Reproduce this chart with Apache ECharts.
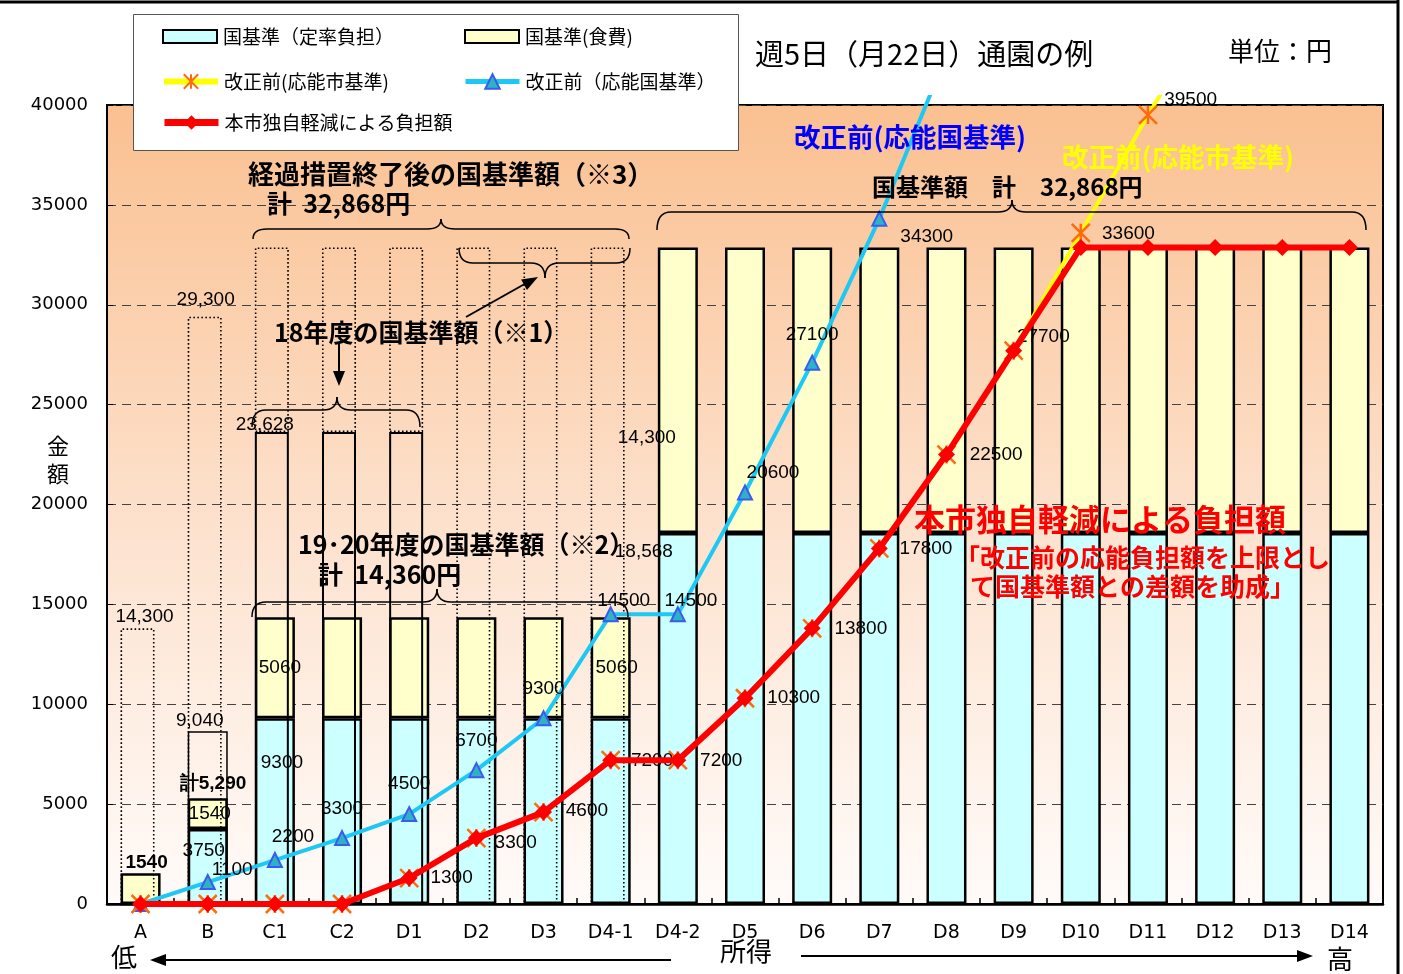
<!DOCTYPE html>
<html><head><meta charset="utf-8">
<script src="https://cdn.jsdelivr.net/npm/echarts@6/dist/echarts.min.js"></script>
<style>html,body{margin:0;padding:0;background:#fff}#c{width:1403px;height:974px}</style>
</head><body><div id="c"></div>
<script>
// ---------- data ----------
const categories = ['A','B','C1','C2','D1','D2','D3','D4-1','D4-2','D5','D6','D7','D8','D9','D10','D11','D12','D13','D14'];
const yTicks = [0,5000,10000,15000,20000,25000,30000,35000,40000];
// 国基準(定率負担)
const kunTeiritsu = [0,3750,9300,9300,9300,9300,9300,9300,18568,18568,18568,18568,18568,18568,18568,18568,18568,18568,18568];
// 国基準(食費)
const kunShokuhi  = [1540,1540,5060,5060,5060,5060,5060,5060,14300,14300,14300,14300,14300,14300,14300,14300,14300,14300,14300];
// B total box (solid outline)
const boxB = [null,8650,null,null,null,null,null,null,null,null,null,null,null,null,null,null,null,null,null];
const boxBLabels = ['','9,040'];
// 18年度の国基準額 (solid outline, C1-D1)
const kun18 = [null,null,23628,23628,23628,null,null,null,null,null,null,null,null,null,null,null,null,null,null];
const kun18Labels = ['','','23,628'];
// 経過措置終了後 / 18年度 (dotted outline totals)
const dottedTotals = [13800,29400,32868,32868,32868,32868,32868,32868,null,null,null,null,null,null,null,null,null,null,null];
const dottedLabels = ['14,300','29,300'];
// 改正前(応能市基準)
const shiKijun  = [0,0,0,0,1300,3300,4600,7200,7200,10300,13800,17800,22500,27700,33600,39500,45000,null,null];
// 改正前(応能国基準)
const kokuKijun = [0,1100,2200,3300,4500,6700,9300,14500,14500,20600,27100,34300,42500,null,null,null,null,null,null];
// 本市独自軽減による負担額
const keigen    = [0,0,0,0,1300,3300,4600,7200,7200,10300,13800,17800,22500,27700,32868,32868,32868,32868,32868];
const d42Labels = ['18,568','14,300'];

// ---------- styles ----------
const JP = "'Noto Sans CJK JP', sans-serif";
const NUM = "'Liberation Sans', Arial, sans-serif";
const lblBase = {show:true, color:'#000', fontFamily:NUM, fontSize:19};
function items(values, specs, textFn){
  return values.map((v,i)=>{
    if (v==null) return null;
    const s = specs[i];
    if (!s) return v;
    const t = s.text!=null ? s.text : textFn(v,i);
    return {value:v, label:Object.assign({}, lblBase, {position:s.pos, offset:s.off, fontWeight:s.bold?'bold':'normal', formatter:()=>t})};
  });
}
const plain = v => String(v);

const blueBarSpec = {1:{pos:'inside',off:[-4,-16]}, 2:{pos:'inside',off:[7,-48]}, 8:{pos:'inside',off:[-34,-167],text:d42Labels[0]}};
const yelBarSpec  = {0:{pos:'top',off:[6,4],bold:true}, 1:{pos:'inside',off:[2,0]}, 2:{pos:'inside',off:[5,0]}, 7:{pos:'inside',off:[6,0]}, 8:{pos:'inside',off:[-31,47],text:d42Labels[1]}};
const boxSpec = {1:{pos:'top',off:[-8,4],text:boxBLabels[1]}};
const k18Spec = {2:{pos:'top',off:[-7,7],text:kun18Labels[2]}};
const dotSpec = {0:{pos:'top',off:[7,3],text:dottedLabels[0]}, 1:{pos:'top',off:[1,-2],text:dottedLabels[1]}};

const blueLineSpec = {1:{pos:'right',off:[-9,-12]},2:{pos:'top',off:[18,-1]},3:{pos:'top',off:[0,-7]},4:{pos:'top',off:[0,-8]},
  5:{pos:'top',off:[0,-7]},6:{pos:'top',off:[0,-7]},7:{pos:'top',off:[13,9]},8:{pos:'top',off:[13,9]},9:{pos:'top',off:[28,3]},
  10:{pos:'top',off:[0,-5]},11:{pos:'right',off:[8,18]}};
const yelLineSpec = {4:{pos:'right',off:[6,0]},5:{pos:'right',off:[3,5]},6:{pos:'right',off:[7,-1]},7:{pos:'right',off:[5,1]},
  8:{pos:'right',off:[7,1]},9:{pos:'right',off:[7,0]},10:{pos:'right',off:[7,0]},11:{pos:'right',off:[5,0]},12:{pos:'right',off:[8,0]},
  13:{pos:'right',off:[-12,-14]},14:{pos:'right',off:[6,1]},15:{pos:'right',off:[1,-15]}};

// dotted outline stacked above 18年度 outline
const dottedPart = dottedTotals.map((v,i)=> v==null ? null : v - (kun18[i]||0));
const dottedItems = dottedPart.map((v,i)=>{
  if (v==null) return null;
  const s = dotSpec[i];
  if (!s) return v;
  return {value:v, label:Object.assign({}, lblBase, {position:s.pos, offset:s.off, formatter:()=>s.text})};
});

const bg = new echarts.graphic.LinearGradient(0,0,0,1,[{offset:0,color:'#FAC090'},{offset:0.55,color:'#FDE3D0'},{offset:1,color:'#FFFBF9'}]);

const stroke = {stroke:'#000', lineWidth:1.5, fill:null};
function seg(x1,y1,x2,y2){ return {type:'line', z:20, shape:{x1,y1,x2,y2}, style:stroke}; }
function qc(x1,y1,cx,cy,x2,y2){ return {type:'bezierCurve', z:20, shape:{x1,y1,x2,y2,cpx1:cx,cpy1:cy}, style:stroke}; }
function brace(x1,x2,xm,yEnd,yMid,yTip){
  const r = 14;
  return [
    qc(x1,yEnd,x1,yMid,x1+r,yMid), seg(x1+r,yMid,xm-r,yMid), qc(xm-r,yMid,xm,yMid,xm,yTip),
    qc(xm,yTip,xm,yMid,xm+r,yMid), seg(xm+r,yMid,x2-r,yMid), qc(x2-r,yMid,x2,yMid,x2,yEnd)
  ];
}
function txt(text,x,y,size,opts){
  opts = opts||{};
  return {type:'text', z:20, style:{text, x, y, font:`${opts.bold?'bold ':''}${size}px ${opts.family||JP}`, fill:opts.color||'#000',
    textAlign:opts.align||'left', textVerticalAlign:'middle', align:opts.align||'left', verticalAlign:'middle'}};
}
function arrowHead(tx,ty,fx,fy,len,wid){
  const dx=tx-fx, dy=ty-fy, L=Math.hypot(dx,dy), ux=dx/L, uy=dy/L;
  const bx=tx-ux*len, by=ty-uy*len;
  return {type:'polygon', z:20, shape:{points:[[tx,ty],[bx-uy*wid,by+ux*wid],[bx+uy*wid,by-ux*wid]]}, style:{fill:'#000'}};
}

const xSymbol = 'path://M0,0L10,10M10,0L0,10M5,0L5,10';

const legendCommon = {padding:0, itemWidth:54, itemHeight:13, selectedMode:false, z:10,
  textStyle:{fontSize:19, fontFamily:JP, color:'#000', padding:[0,0,0,1]}};
function lineLegend(name, left, top, width){
  return Object.assign({}, legendCommon, {data:[name], left, top, itemHeight:18, lineStyle:{width}});
}

const option = {
  animation:false,
  backgroundColor:'#fff',
  legend:[
    Object.assign({}, legendCommon, {data:[{name:'国基準（定率負担）',icon:'rect'}], left:162, top:27}),
    Object.assign({}, legendCommon, {data:[{name:'国基準(食費)',icon:'rect'}], left:464, top:27}),
    lineLegend('改正前(応能市基準)', 161, 72, 6),
    lineLegend('改正前（応能国基準）', 463, 72, 5),
    lineLegend('本市独自軽減による負担額', 161, 113, 7)
  ],
  grid:[
    {left:107, right:20, top:105, bottom:70, show:true, backgroundColor:bg, borderColor:'#000', borderWidth:2},
    {left:107, right:20, top:97, bottom:70, show:false}
  ],
  xAxis:[
    {type:'category', gridIndex:0, data:categories, boundaryGap:true,
      axisLine:{lineStyle:{color:'#000', width:2.5}},
      axisTick:{show:true, inside:true, length:6, lineStyle:{color:'#000', width:1.5}},
      axisLabel:{color:'#000', fontSize:19, fontFamily:"'DejaVu Sans', sans-serif", margin:20}},
    {type:'category', gridIndex:0, data:categories, show:false},
    {type:'category', gridIndex:1, data:categories, show:false}
  ],
  yAxis:[
    {type:'value', gridIndex:0, min:0, max:40000, interval:5000,
      axisLine:{show:true, lineStyle:{color:'#000', width:2}},
      axisTick:{show:true, inside:true, length:6, lineStyle:{color:'#000'}},
      axisLabel:{color:'#000', fontSize:18, fontFamily:"'DejaVu Sans', sans-serif", margin:19,
        formatter:v=> yTicks.includes(v) ? String(v) : ''},
      splitLine:{show:true, lineStyle:{color:'#444', type:[9,6], width:1.2}}},
    {type:'value', gridIndex:1, min:0, max:40400, show:false, splitLine:{show:false}}
  ],
  series:[
    {name:'国基準（定率負担）', type:'bar', xAxisIndex:0, yAxisIndex:0, stack:'k', barWidth:40, barGap:'-100%',
      itemStyle:{color:'#CCFFFF', borderColor:'#000', borderWidth:2.5}, z:2,
      data:items(kunTeiritsu, blueBarSpec, plain)},
    {name:'国基準(食費)', type:'bar', xAxisIndex:0, yAxisIndex:0, stack:'k', barWidth:40, barGap:'-100%',
      itemStyle:{color:'#FFFFCC', borderColor:'#000', borderWidth:2.5}, z:2,
      data:items(kunShokuhi, yelBarSpec, plain)},
    {name:'boxB', type:'bar', xAxisIndex:0, yAxisIndex:0, barWidth:40, barGap:'-100%',
      itemStyle:{color:'rgba(0,0,0,0)', borderColor:'#000', borderWidth:1.5}, z:2,
      data:items(boxB, boxSpec, plain)},
    {name:'kun18', type:'bar', xAxisIndex:1, yAxisIndex:0, stack:'o', barWidth:34, barGap:'-82%',
      itemStyle:{color:'rgba(0,0,0,0)', borderColor:'#000', borderWidth:2}, z:2,
      data:items(kun18, k18Spec, plain)},
    {name:'dotted', type:'bar', xAxisIndex:1, yAxisIndex:0, stack:'o', barWidth:34, barGap:'-82%',
      itemStyle:{color:'rgba(0,0,0,0)', borderColor:'#000', borderWidth:1.6, borderType:[1.6,2.4]}, z:2,
      data:dottedItems},
    {name:'spacer', type:'bar', xAxisIndex:1, yAxisIndex:0, stack:'s', barWidth:34, barGap:'-82%',
      itemStyle:{color:'rgba(0,0,0,0)', borderWidth:0}, silent:true,
      data:categories.map(()=>0)},
    {name:'改正前（応能国基準）', type:'line', xAxisIndex:2, yAxisIndex:1, z:3, clip:true,
      lineStyle:{color:'#1EC8F5', width:4}, symbol:'triangle', symbolSize:14, showAllSymbol:true,
      itemStyle:{color:'#2FB3C4', borderColor:'#3A5BF0', borderWidth:2},
      data:items(kokuKijun, blueLineSpec, plain)},
    {name:'改正前(応能市基準)', type:'line', xAxisIndex:2, yAxisIndex:1, z:4, clip:true,
      lineStyle:{color:'#FFFF00', width:4}, symbol:xSymbol, symbolSize:18, showAllSymbol:true,
      itemStyle:{color:'#FF6A10', borderColor:'#FF6A10', borderWidth:2.5},
      data:items(shiKijun, yelLineSpec, plain)},
    {name:'本市独自軽減による負担額', type:'line', xAxisIndex:2, yAxisIndex:1, z:5, clip:true,
      lineStyle:{color:'#FF0000', width:6}, symbol:'diamond', symbolSize:17, showAllSymbol:true,
      itemStyle:{color:'#FF0000'},
      data:keigen}
  ],
  graphic:{elements:[].concat(
    [
    {type:'line', z:20, shape:{x1:0,y1:2,x2:1399,y2:2}, style:{stroke:'#000', lineWidth:3}},
    {type:'line', z:20, shape:{x1:1398,y1:0,x2:1398,y2:974}, style:{stroke:'#000', lineWidth:3}},
    {type:'rect', z:6, shape:{x:133.5,y:14.5,width:605,height:136}, style:{fill:'#fff', stroke:'#555', lineWidth:1}},
    txt('週5日（月22日）通園の例', 755, 54, 29),
    txt('単位：円', 1228, 51, 26),
    txt('金', 58, 446, 22, {align:'center'}),
    txt('額', 58, 474, 22, {align:'center'}),
    txt('低', 124, 957, 26, {align:'center'}),
    txt('所得', 746, 951, 26, {align:'center'}),
    txt('高', 1340, 959, 26, {align:'center'}),
    {type:'line', z:20, shape:{x1:160,y1:960,x2:671,y2:960}, style:{stroke:'#000', lineWidth:2}},
    arrowHead(150,960,671,960,16,6),
    {type:'line', z:20, shape:{x1:801,y1:956,x2:1300,y2:956}, style:{stroke:'#000', lineWidth:2}},
    arrowHead(1313,956,801,956,16,6),
    txt('経過措置終了後の国基準額（※3）', 248, 174, 26, {bold:true}),
    txt('計  32,868円', 267, 203, 25, {bold:true}),
    txt('18年度の国基準額（※1）', 274, 332, 25, {bold:true}),
    {type:'line', z:20, shape:{x1:466,y1:317,x2:530,y2:281}, style:{stroke:'#000', lineWidth:2}},
    arrowHead(538,277,466,317,16,6),
    {type:'line', z:20, shape:{x1:339,y1:343,x2:339,y2:372}, style:{stroke:'#000', lineWidth:2}},
    arrowHead(339,386,339,343,15,6),
    txt('19･20年度の国基準額（※2）', 298, 544, 25, {bold:true}),
    txt('計  14,360円', 318, 574, 25, {bold:true}),
    txt('計5,290', 213, 784, 19, {bold:true, align:'center', family:NUM}),
    txt('国基準額　計　32,868円', 872, 187, 24, {bold:true}),
    txt('改正前(応能国基準)', 794, 137, 26.5, {bold:true, color:'#0000FF'}),
    txt('改正前(応能市基準)', 1062, 157, 26.5, {bold:true, color:'#FFFF00'}),
    txt('本市独自軽減による負担額', 914, 519, 31, {bold:true, color:'#FF0000'}),
    txt('「改正前の応能負担額を上限とし', 955, 557, 25, {bold:true, color:'#FF0000'}),
    txt('て国基準額との差額を助成」', 970, 586, 25, {bold:true, color:'#FF0000'})
    ],
    brace(253,629,441,239,229,219),
    brace(459,630,545,248,263,278),
    brace(252,420,337,427,410,397),
    brace(252,628,437,617,602,589),
    brace(657,1366,1012,230,212,200)
  )}
};
const chart = echarts.init(document.getElementById('c'), null, {renderer:'canvas'});
chart.setOption(option);
</script></body></html>
